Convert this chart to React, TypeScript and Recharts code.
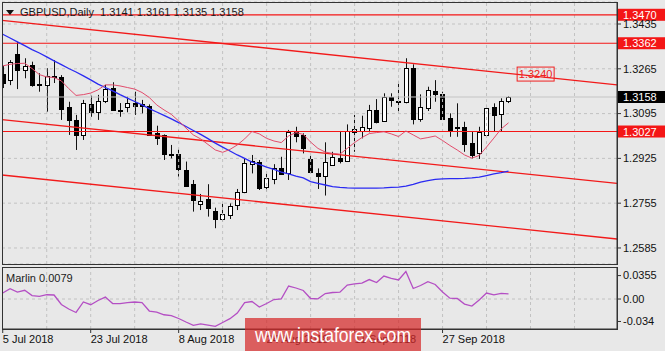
import React from 'react';
import { ComposedChart, Bar, Line, XAxis, YAxis, CartesianGrid, ReferenceLine, ReferenceDot } from 'recharts';

// GBPUSD daily, 5 Jul 2018 .. 10 Oct 2018
const opens = [1.3245, 1.3222, 1.332, 1.326, 1.3279, 1.3205, 1.3206, 1.3234, 1.3235, 1.3121, 1.3071, 1.3014, 1.313, 1.31, 1.3143, 1.3193, 1.3108, 1.3117, 1.3134, 1.313, 1.3125, 1.302, 1.3014, 1.2941, 1.2941, 1.2881, 1.2827, 1.2751, 1.2771, 1.2725, 1.2695, 1.271, 1.2748, 1.2796, 1.2902, 1.2912, 1.2814, 1.2847, 1.289, 1.2872, 1.3026, 1.3014, 1.2923, 1.2868, 1.2856, 1.2902, 1.2928, 1.2915, 1.3026, 1.3029, 1.3041, 1.3109, 1.3067, 1.3159, 1.3142, 1.314, 1.3269, 1.3075, 1.3117, 1.3181, 1.3168, 1.3077, 1.3046, 1.3045, 1.2982, 1.2944, 1.3016, 1.3121, 1.3092, 1.3141];
const highs = [1.3276, 1.3298, 1.3368, 1.3305, 1.3292, 1.3248, 1.3267, 1.3298, 1.3241, 1.314, 1.309, 1.3147, 1.3163, 1.3166, 1.3204, 1.3214, 1.3135, 1.3159, 1.3178, 1.3147, 1.313, 1.3049, 1.3016, 1.2976, 1.2961, 1.2913, 1.2843, 1.279, 1.2827, 1.2738, 1.2754, 1.2754, 1.2809, 1.2925, 1.2938, 1.2919, 1.2868, 1.2903, 1.2931, 1.3033, 1.3045, 1.302, 1.2935, 1.2887, 1.2986, 1.295, 1.3029, 1.3054, 1.309, 1.3087, 1.3128, 1.315, 1.3172, 1.3172, 1.3219, 1.3305, 1.3282, 1.3168, 1.3197, 1.3222, 1.3178, 1.3096, 1.3134, 1.3064, 1.3026, 1.3045, 1.3128, 1.3134, 1.3153, 1.3161];
const lows = [1.3192, 1.3203, 1.3188, 1.3229, 1.3197, 1.3178, 1.3102, 1.3211, 1.3071, 1.3014, 1.2957, 1.2995, 1.3083, 1.3071, 1.3135, 1.3105, 1.3083, 1.31, 1.309, 1.3096, 1.3014, 1.2976, 1.2919, 1.2925, 1.2856, 1.2818, 1.2723, 1.2729, 1.2704, 1.266, 1.2685, 1.2695, 1.2729, 1.2793, 1.2868, 1.2805, 1.2799, 1.2827, 1.2865, 1.2843, 1.2986, 1.2944, 1.2868, 1.2809, 1.2784, 1.2897, 1.2906, 1.2912, 1.295, 1.3001, 1.3024, 1.3058, 1.3064, 1.3121, 1.3096, 1.3134, 1.3054, 1.3064, 1.3105, 1.314, 1.3071, 1.3007, 1.3007, 1.295, 1.2925, 1.2923, 1.3014, 1.3026, 1.3026, 1.3135];
const closes = [1.3211, 1.3292, 1.326, 1.3277, 1.3203, 1.3207, 1.3239, 1.3238, 1.3115, 1.3071, 1.3014, 1.3134, 1.31, 1.3143, 1.3188, 1.3109, 1.311, 1.3134, 1.3121, 1.3121, 1.3016, 1.3001, 1.2942, 1.2943, 1.2884, 1.2821, 1.2767, 1.2764, 1.2738, 1.2695, 1.2713, 1.2745, 1.2799, 1.2906, 1.2915, 1.2812, 1.285, 1.289, 1.2868, 1.3026, 1.3011, 1.2963, 1.2872, 1.2856, 1.291, 1.2931, 1.2915, 1.3029, 1.3037, 1.3045, 1.3109, 1.3064, 1.3159, 1.3147, 1.3144, 1.3269, 1.3075, 1.3121, 1.3185, 1.3168, 1.3075, 1.3026, 1.3044, 1.2982, 1.2935, 1.3024, 1.3117, 1.3092, 1.3143, 1.3158];

const blueMa = [1.3396, 1.3382, 1.3367, 1.3353, 1.3338, 1.3325, 1.331, 1.3295, 1.3281, 1.3266, 1.3253, 1.3238, 1.3223, 1.3207, 1.3194, 1.3181, 1.3167, 1.3154, 1.3141, 1.3128, 1.3114, 1.3101, 1.3088, 1.3075, 1.3061, 1.3046, 1.3031, 1.3016, 1.3, 1.2983, 1.2968, 1.2953, 1.2938, 1.2925, 1.2911, 1.2902, 1.2892, 1.2883, 1.2873, 1.2866, 1.2858, 1.2851, 1.2837, 1.283, 1.2824, 1.2818, 1.2815, 1.2813, 1.2812, 1.2812, 1.2812, 1.2812, 1.2813, 1.2815, 1.2816, 1.282, 1.2826, 1.2835, 1.2841, 1.2845, 1.2847, 1.2848, 1.2848, 1.2849, 1.2851, 1.2854, 1.286, 1.2866, 1.2871, 1.2877];
const redMa = [1.3276, 1.3282, 1.3285, 1.3286, 1.3266, 1.3243, 1.3234, 1.3232, 1.3219, 1.319, 1.3164, 1.3167, 1.3173, 1.3185, 1.3204, 1.3204, 1.32, 1.3194, 1.3188, 1.3175, 1.3156, 1.3128, 1.3109, 1.3092, 1.3067, 1.304, 1.3014, 1.2999, 1.2978, 1.2957, 1.2948, 1.2959, 1.2976, 1.2999, 1.3027, 1.3018, 1.3001, 1.2991, 1.2985, 1.301, 1.3023, 1.3016, 1.2987, 1.2963, 1.2949, 1.2944, 1.2941, 1.2963, 1.2985, 1.3004, 1.3019, 1.3023, 1.3026, 1.3018, 1.3008, 1.3029, 1.3014, 1.2999, 1.3004, 1.301, 1.2993, 1.2974, 1.2957, 1.2938, 1.2926, 1.2936, 1.2968, 1.3002, 1.3037, 1.306];
const marlin = [0.0091, 0.0156, 0.0106, 0.0132, 0.0053, 0.0041, 0.0065, 0.0061, -0.0083, -0.0151, -0.0204, -0.0045, -0.0086, -0.0022, 0.003, -0.0068, -0.0071, -0.0053, -0.0045, -0.0053, -0.0182, -0.0197, -0.0238, -0.025, -0.0295, -0.0348, -0.0398, -0.0376, -0.0394, -0.0414, -0.0356, -0.0298, -0.0212, -0.0053, -0.0038, -0.0121, -0.0068, -0.0008, 0.0003, 0.0197, 0.0167, 0.0129, 0.0008, 0.0003, 0.0083, 0.0099, 0.0103, 0.0212, 0.0229, 0.0242, 0.0295, 0.0249, 0.0348, 0.0311, 0.0288, 0.0417, 0.0159, 0.0205, 0.0264, 0.022, 0.0106, 0.0012, 0.0008, -0.0076, -0.0106, -0.0015, 0.0091, 0.0062, 0.0085, 0.0079];

const dateTicks = [0, 12, 24, 36, 48, 60];
const dateLabels = ['5 Jul 2018', '23 Jul 2018', '8 Aug 2018', '24 Aug 2018', '11 Sep 2018', '27 Sep 2018'];
const gridIdx = [6, 12, 18, 24, 30, 36, 42, 48, 54, 60, 66, 72, 78];
const priceTicks = [1.2585, 1.2755, 1.2925, 1.3095, 1.3265, 1.3435];
const marlinTicks = [-0.034, 0, 0.0355];
const levels = [1.347, 1.3362, 1.3027];
const bid = 1.3158;
// channel lines: [startIdx, startPrice, endIdx, endPrice]
const channels = [
  [-0.1, 1.3449, 83.8, 1.3204],
  [-0.1, 1.3072, 83.8, 1.283],
  [-0.1, 1.2862, 83.8, 1.2619],
];
const channelTag = { idx: 72.7, price: 1.3245, text: '1.3240' };

const X_DOMAIN = [-0.1, 83.8];
const FONT = "'Liberation Sans', Arial, sans-serif";
const BG = '#e8e8e8';

const data = opens.map((o, i) => ({
  i,
  open: o,
  high: highs[i],
  low: lows[i],
  close: closes[i],
  maBlue: blueMa[i],
  maRed: redMa[i],
  marlin: marlin[i],
}));

const Candle = (props: any) => {
  const { x, y, width, height, payload } = props;
  const { open, close, high, low } = payload;
  const top = Math.min(y, y + height);
  const bot = Math.max(y, y + height);
  const span = high - low || 1e-9;
  const py = (v: number) => top + ((high - v) / span) * (bot - top);
  const cx = Math.round(x + width / 2) + 0.5;
  const yo = py(open);
  const yc = py(close);
  const bTop = Math.round(Math.min(yo, yc)) + 0.5;
  const bH = Math.max(Math.round(Math.abs(yo - yc)), 1);
  const up = close >= open;
  return (
    <g>
      <line x1={cx} x2={cx} y1={top} y2={bot} stroke="#111" />
      <rect x={cx - 2} y={bTop} width={4} height={bH} fill={up ? '#fff' : '#000'} stroke="#000" />
    </g>
  );
};

const tagLabel = (text: string, bg: string) => (p: any) => {
  const vb = p.viewBox || {};
  const x = vb.x + vb.width + 1;
  const y = vb.y;
  return (
    <g>
      <rect x={x} y={y - 6} width={48} height={12} fill={bg} />
      <text x={x + 5} y={y + 4} fill="#fff" fontSize={11} fontFamily={FONT}>{text}</text>
    </g>
  );
};

const ChannelTag = (p: any) => (
  <g>
    <rect x={p.cx - 18.5} y={p.cy - 7} width={37} height={14} fill="none" stroke="#f02020" />
    <text x={p.cx} y={p.cy + 4} textAnchor="middle" fill="#f02020" fontSize={11} fontFamily={FONT}>{channelTag.text}</text>
  </g>
);

const DateTick = (p: any) => {
  const k = dateTicks.indexOf(p.payload.value);
  return (
    <text x={p.x} y={p.y} dy="0.71em" textAnchor="start" fill="#111" fontSize={11} fontFamily={FONT}>
      {dateLabels[k]}
    </text>
  );
};

export default function App() {
  return (
    <div style={{ position: 'absolute', left: 0, top: 0, width: 665, height: 351, background: BG, overflow: 'hidden', fontFamily: FONT }}>
      <div style={{ position: 'absolute', left: 0, top: 0 }}>
        <ComposedChart width={665} height={266} data={data} margin={{ top: 2, right: 0, bottom: 2, left: 2 }}>
          <CartesianGrid vertical={false} stroke="#c2c2c2" strokeDasharray="3 3" />
          {gridIdx.map((g) => (
            <ReferenceLine key={`g${g}`} x={g} stroke="#c2c2c2" strokeDasharray="3 3" />
          ))}
          <XAxis type="number" dataKey="i" domain={X_DOMAIN} hide allowDataOverflow />
          <YAxis
            orientation="right"
            domain={[1.25242, 1.35185]}
            ticks={priceTicks}
            width={48}
            allowDataOverflow
            tickFormatter={(v: number) => v.toFixed(4)}
            tick={{ fill: '#111', fontSize: 11, fontFamily: FONT }}
            tickSize={4}
            tickMargin={2}
            tickLine={{ stroke: '#333' }}
            axisLine={{ stroke: '#333' }}
          />
          <ReferenceLine y={bid} stroke="#c4c4c4" label={tagLabel(bid.toFixed(4), '#000')} />
          {channels.map((c, k) => (
            <ReferenceLine
              key={`c${k}`}
              segment={[{ x: c[0], y: c[1] }, { x: c[2], y: c[3] }]}
              stroke="#f21a1a"
              strokeWidth={1.3}
              ifOverflow="visible"
            />
          ))}
          {levels.map((lv) => (
            <ReferenceLine key={`l${lv}`} y={lv} stroke="#f41616" strokeWidth={1.2} label={tagLabel(lv.toFixed(4), '#f41616')} />
          ))}
          <ReferenceDot x={channelTag.idx} y={channelTag.price} r={0} shape={(p: any) => <ChannelTag {...p} />} />
          <Line dataKey="maBlue" type="linear" stroke="#2a2af2" strokeWidth={1.3} dot={false} isAnimationActive={false} />
          <Line dataKey="maRed" type="linear" stroke="#e24c6c" strokeWidth={1} dot={false} isAnimationActive={false} />
          <Bar
            dataKey={(d: any) => [d.low, d.high]}
            barSize={5}
            isAnimationActive={false}
            shape={(p: any) => <Candle {...p} />}
          />
        </ComposedChart>
      </div>

      <div style={{ position: 'absolute', left: 0, top: 266 }}>
        <ComposedChart width={665} height={85} data={data} margin={{ top: 1, right: 0, bottom: 0, left: 2 }}>
          {gridIdx.map((g) => (
            <ReferenceLine key={`mg${g}`} x={g} stroke="#c2c2c2" strokeDasharray="3 3" />
          ))}
          <ReferenceLine y={0} stroke="#c2c2c2" strokeDasharray="3 3" />
          <XAxis
            type="number"
            dataKey="i"
            domain={X_DOMAIN}
            allowDataOverflow
            ticks={dateTicks}
            interval={0}
            height={22}
            tickSize={4}
            tickMargin={2}
            tick={(p: any) => <DateTick {...p} />}
            tickLine={{ stroke: '#333' }}
            axisLine={{ stroke: '#333' }}
          />
          <YAxis
            orientation="right"
            domain={[-0.0454, 0.0485]}
            ticks={marlinTicks}
            width={48}
            allowDataOverflow
            tickFormatter={(v: number) => (v === 0 ? '0.00' : String(v))}
            tick={{ fill: '#111', fontSize: 11, fontFamily: FONT }}
            tickSize={4}
            tickMargin={2}
            tickLine={{ stroke: '#333' }}
            axisLine={{ stroke: '#333' }}
          />
          <Line dataKey="marlin" type="linear" stroke="#b44fc4" strokeWidth={1.3} dot={false} isAnimationActive={false} />
        </ComposedChart>
      </div>

      {/* panel borders */}
      <div style={{ position: 'absolute', left: 2, top: 2, width: 616, height: 263, boxSizing: 'border-box', border: '1px solid #333', pointerEvents: 'none' }} />
      <div style={{ position: 'absolute', left: 2, top: 267, width: 616, height: 63, boxSizing: 'border-box', border: '1px solid #333', pointerEvents: 'none' }} />

      {/* titles */}
      <div style={{ position: 'absolute', left: 6, top: 10, width: 0, height: 0, borderLeft: '4.5px solid transparent', borderRight: '4.5px solid transparent', borderTop: '5px solid #111' }} />
      <div style={{ position: 'absolute', left: 20, top: 5, fontSize: 11, lineHeight: '14px', color: '#1a1a1a', whiteSpace: 'pre' }}>
        {'GBPUSD,Daily  1.3141 1.3161 1.3135 1.3158'}
      </div>
      <div style={{ position: 'absolute', left: 6, top: 271, fontSize: 11, lineHeight: '14px', color: '#1a1a1a', whiteSpace: 'pre' }}>
        {'Marlin 0.0079'}
      </div>

      {/* watermark */}
      <svg style={{ position: 'absolute', left: 245, top: 318 }} width={176} height={33}>
        <rect x={0} y={0} width={176} height={33} fill="rgba(214,40,40,0.72)" />
        <text x={88} y={24} textAnchor="middle" fill="#fff" fontSize={21} fontFamily={FONT} textLength={156} lengthAdjust="spacingAndGlyphs">
          www.instaforex.com
        </text>
      </svg>
    </div>
  );
}
